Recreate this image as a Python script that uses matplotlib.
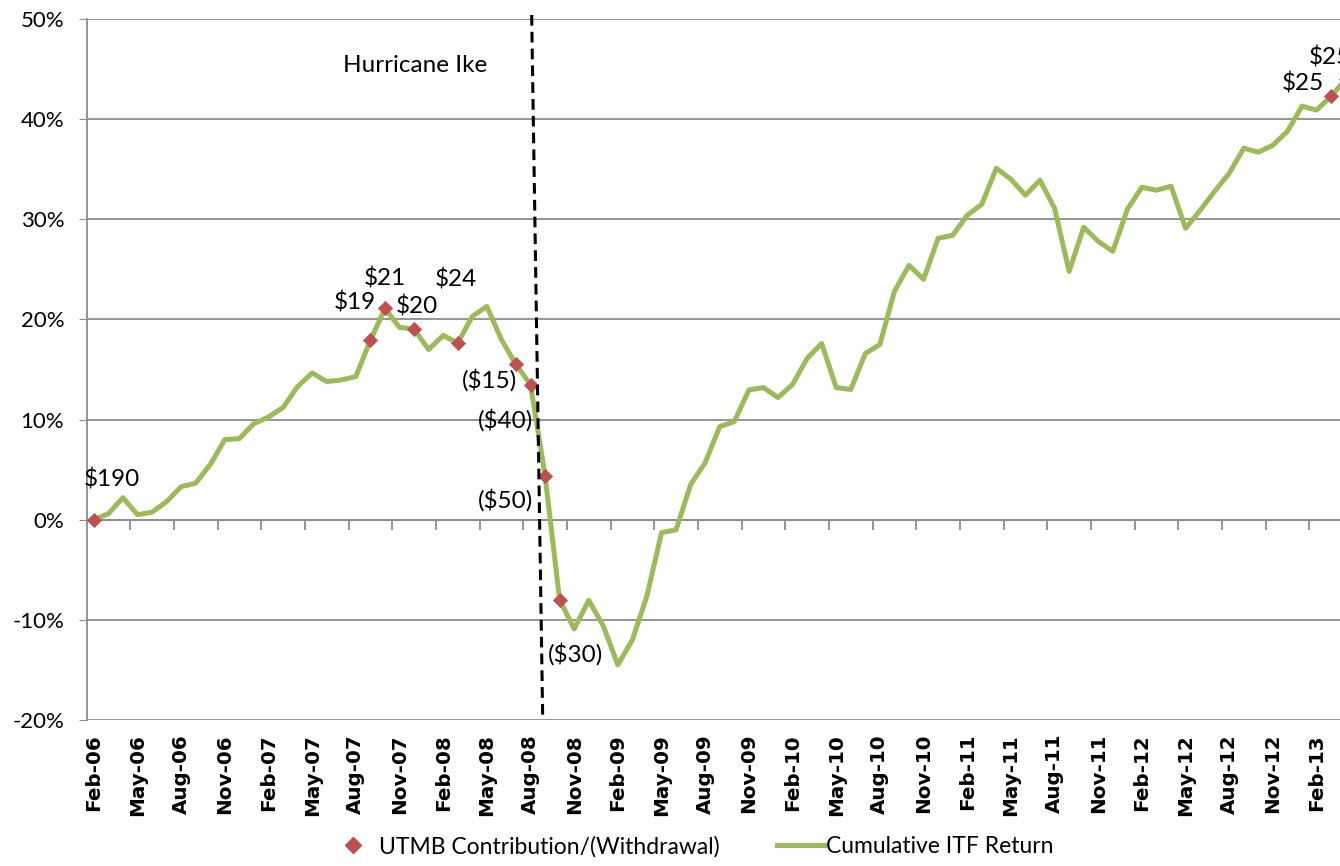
import numpy as np
import pandas as pd
import matplotlib
matplotlib.use('Agg')
import matplotlib.pyplot as plt
from matplotlib.ticker import FuncFormatter
from matplotlib.lines import Line2D

plt.rcParams['font.family'] = ['Lato', 'DejaVu Sans']
plt.rcParams['axes.unicode_minus'] = False

# monthly cumulative ITF return (%), Feb-06 .. Apr-13
returns = [0.0, 0.6, 2.2, 0.5, 0.75, 1.8, 3.3, 3.65, 5.5, 8.0,
           8.1, 9.6, 10.25, 11.2, 13.3, 14.65, 13.8, 13.95, 14.3, 17.9,
           21.1, 19.2, 19.05, 17.0, 18.4, 17.65, 20.3, 21.3, 18.0, 15.5,
           13.5, 4.4, -8.0, -10.9, -8.05, -10.6, -14.5, -12.0, -7.6, -1.3,
           -1.0, 3.5, 5.7, 9.3, 9.8, 12.95, 13.2, 12.2, 13.5, 16.1,
           17.6, 13.2, 13.0, 16.6, 17.5, 22.8, 25.4, 24.0, 28.1, 28.4,
           30.4, 31.5, 35.1, 34.0, 32.4, 33.9, 31.1, 24.8, 29.2, 27.8,
           26.8, 31.0, 33.2, 32.9, 33.3, 29.1, 30.9, 32.8, 34.6, 37.1,
           36.7, 37.4, 38.8, 41.3, 40.9, 42.3, 44.0]
months = pd.date_range('2006-02-01', periods=len(returns), freq='MS').strftime('%b-%y').tolist()

# UTMB contributions / withdrawals ($M)
contrib_months = ['Feb-06', 'Sep-07', 'Oct-07', 'Dec-07', 'Mar-08', 'Jul-08',
                  'Aug-08', 'Sep-08', 'Oct-08', 'Mar-13', 'Apr-13']
contrib_labels = ['$190', '$19', '$21', '$20', '$24', '($15)',
                  '($40)', '($50)', '($30)', '$25', '$25']
# label offsets in pixels from each marker
label_offsets = [(18, 40), (-16, 38), (0, 30), (3, 22), (-2, 63), (-26, -16),
                 (-25, -36), (-40, -24), (16, -54), (-28, 13), (-16, 22)]

x = np.arange(len(returns))
cx = [months.index(m) for m in contrib_months]
cy = [returns[i] for i in cx]

fig = plt.figure(figsize=(13.4, 8.66), dpi=100)
ax = fig.add_axes([86.5 / 1340, 146 / 866, (1353 - 86.5) / 1340, 701 / 866])

ax.set_ylim(-20, 50)
ax.set_xlim(-0.5, len(returns) - 0.5)
ax.set_yticks(np.arange(-20, 51, 10))
ax.yaxis.set_major_formatter(FuncFormatter(lambda v, p: '%d%%' % v))
ax.grid(axis='y', color='#8c8c8c', lw=1.3)
ax.set_axisbelow(True)
for s in ['top', 'right', 'bottom']:
    ax.spines[s].set_visible(False)
ax.spines['left'].set_color('#8c8c8c')
ax.spines['left'].set_linewidth(1.3)
ax.tick_params(axis='y', length=6, color='#8c8c8c', labelsize=16, pad=10)

# month labels every quarter at the bottom
ax.set_xticks(x[::3])
ax.set_xticklabels(months[::3], rotation=90, fontsize=14.3, fontweight='bold',
                   family='DejaVu Sans')
ax.tick_params(axis='x', length=0, pad=10)

# category axis crossing at 0%
sec = ax.secondary_xaxis(20 / 70)
sec.set_xticks(np.arange(2.5, len(returns), 3))
sec.set_xticklabels([])
sec.tick_params(axis='x', length=7, color='#8c8c8c', width=1.3, direction='out')
sec.spines['bottom'].set_color('#8c8c8c')
sec.spines['bottom'].set_linewidth(1.3)

ax.plot(x, returns, color='#9BBB59', lw=3.6, solid_joinstyle='round', zorder=3)
ax.scatter(cx, cy, marker='D', s=60, color='#C0504D', zorder=4, linewidths=0)

for xi, yi, lab, off in zip(cx, cy, contrib_labels, label_offsets):
    ax.annotate(lab, (xi, yi), xytext=off, textcoords='offset pixels',
                ha='center', va='center', fontsize=17.5, annotation_clip=False)

# Hurricane Ike marker
ax.plot([30.08, 30.84], [50.4, -20], color='black', lw=2.2, ls=(0, (3.5, 2)),
        clip_on=False, zorder=5)
ax.text(22.1, 45.4, 'Hurricane Ike', ha='center', va='center', fontsize=17.5)

handles = [Line2D([], [], marker='D', color='#C0504D', ls='none', markersize=8),
           Line2D([], [], color='#9BBB59', lw=3.6)]
fig.legend(handles, ['UTMB Contribution/(Withdrawal)', 'Cumulative ITF Return'],
           loc='lower center', bbox_to_anchor=(0.516, -0.014), ncol=2, frameon=False,
           fontsize=16.5, handlelength=2.05, columnspacing=2.5, handletextpad=0.1)

fig.savefig('out.png', dpi=100)
